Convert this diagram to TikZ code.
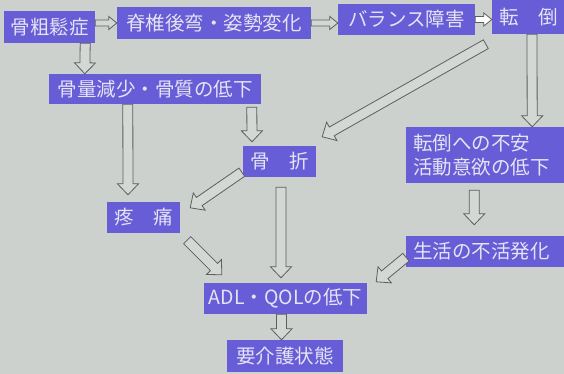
\documentclass[tikz,border=0pt]{standalone}
\usepackage{fontspec}
\newfontfamily\jp{Noto Sans CJK JP}
\usetikzlibrary{calc}
\definecolor{wall}{RGB}{204,209,205}
\definecolor{slide}{RGB}{103,93,214}
\definecolor{ink}{RGB}{228,228,244}
\definecolor{edge}{RGB}{92,94,96}
\tikzset{
  box/.style={fill=slide, text=ink, inner sep=0pt, font=\jp\fontsize{19.5}{24}\selectfont},
  fat/.style={draw=edge, fill=wall!85!white, line width=0.8pt,
    to path={($(\tikztostart)!5pt!90:(\tikztotarget)$)
      -- ($(\tikztotarget)!12.08pt!-24.44:(\tikztostart)$)
      -- ($(\tikztotarget)!15.21pt!-43.67:(\tikztostart)$)
      -- (\tikztotarget)
      -- ($(\tikztotarget)!15.21pt!43.67:(\tikztostart)$)
      -- ($(\tikztotarget)!12.08pt!24.44:(\tikztostart)$)
      -- ($(\tikztostart)!5pt!-90:(\tikztotarget)$) -- cycle}},
  slim/.style={draw=edge, fill=wall!85!white, line width=0.8pt,
    to path={($(\tikztostart)!3pt!90:(\tikztotarget)$)
      -- ($(\tikztotarget)!8.54pt!-20.56:(\tikztostart)$)
      -- ($(\tikztotarget)!10.31pt!-39.09:(\tikztostart)$)
      -- (\tikztotarget)
      -- ($(\tikztotarget)!10.31pt!39.09:(\tikztostart)$)
      -- ($(\tikztotarget)!8.54pt!20.56:(\tikztostart)$)
      -- ($(\tikztostart)!3pt!-90:(\tikztotarget)$) -- cycle}}
}
\begin{document}
\begin{tikzpicture}[x=1pt, y=-1pt]
\useasboundingbox (0,0) rectangle (564,374);
\clip (0,0) rectangle (564,374);
\fill[wall] (0,0) rectangle (564,374);
\node[box, minimum width=91, minimum height=32] (b1) at (49.5,27) {骨粗鬆症};
\node[box, minimum width=194, minimum height=32] (b2) at (214,23) {脊椎後弯・姿勢変化};
\node[box, minimum width=137, minimum height=31] (b3) at (406.5,19.5) {バランス障害};
\node[box, minimum width=74, minimum height=34] (b4) at (529,17) {転　倒};
\node[box, minimum width=212, minimum height=30] (b5) at (155,89) {骨量減少・骨質の低下};
\node[box, minimum width=73, minimum height=31] (b6) at (279.5,161.5) {骨　折};
\node[box, anchor=west, minimum height=56, text width=146, inner xsep=7, align=left] (b7) at (406,155) {転倒への不安\\活動意欲の低下};
\node[box, minimum width=73, minimum height=31] (b8) at (143.5,217.5) {疼　痛};
\node[box, anchor=west, minimum height=31, text width=146, inner xsep=7, align=left] (b9) at (406,251.5) {生活の不活発化};
\node[box, minimum width=163, minimum height=31] (b10) at (285.5,298.5) {ADL・QOLの低下};
\node[box, minimum width=116, minimum height=32] (b11) at (285,356) {要介護状態};
\draw[slim] (b1.east |- b2.west) to (b2.west);
\draw[slim] (b2.east) to (b2.east -| b3.west);
\draw[slim, fill=white] (b3.east) to (b3.east -| b4.west);
\draw[fat] ([xshift=-10]b1.south east) to ([xshift=36]b5.north west);
\draw[fat] ([xshift=3]b4.south) to ([xshift=46]b7.north);
\draw[fat] ([shift={(-6,10)}]b4.south west) to ([shift={(6,-9)}]b6.north east);
\draw[fat] ([xshift=79]b5.south west) to ([shift={(-15.5,-7)}]b8.north);
\draw[fat] ([shift={(203,3)}]b5.south west) to ([shift={(-27.5,-4)}]b6.north);
\draw[fat] ([shift={(-1,-5)}]b6.south west) to ([shift={(10,6)}]b8.north east);
\draw[fat] ([shift={(1.5,10)}]b6.south) to ([shift={(-4.5,-5)}]b10.north);
\draw[fat] ([shift={(7,7)}]b8.south east) to ([shift={(18,-8)}]b10.north west);
\draw[fat] ([shift={(-12,7)}]b7.south) to ([shift={(-12,-11)}]b9.north);
\draw[fat] ([shift={(0,-10)}]b9.south west) to ([shift={(9,-1)}]b10.north east);
\draw[fat] ([xshift=-4]b10.south) to ([xshift=-3.5]b11.north);
\end{tikzpicture}
\end{document}
